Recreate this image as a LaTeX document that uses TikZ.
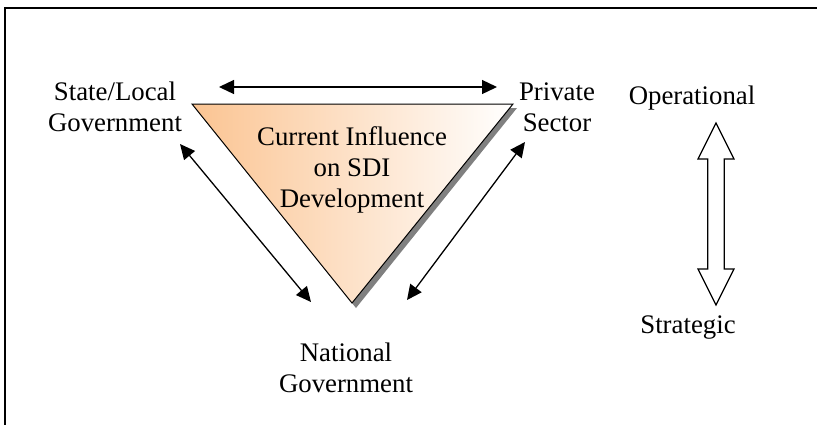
\documentclass[tikz,border=0pt]{standalone}
\usepackage{fontspec}
\setmainfont{Liberation Serif}
\definecolor{peach}{RGB}{251,196,146}
\definecolor{shadowgrey}{RGB}{128,128,128}
\usetikzlibrary{arrows.meta,shapes}
\tikzstyle{actor}=[align=center, inner sep=0pt, font=\fontsize{26.8}{31}\selectfont]
\tikzstyle{dedge}=[draw, line width=1.3pt, {Triangle[length=15pt,width=14pt]}-{Triangle[length=15pt,width=14pt]}]
\tikzstyle{bigarrow}=[draw, line width=1.2pt, fill=white]

\begin{document}
\begin{tikzpicture}[x=1pt,y=-1pt]
    \path [use as bounding box] (0,0) rectangle (817,424);
    \draw[line width=1.6pt] (5,8) rectangle (840,440);

    % triangle and its shadow
    \fill[shadowgrey] (196,108) -- (517,108) -- (356,308) -- cycle;
    \shade[left color=peach, right color=white, draw=black, line width=1pt]
        (192,104) -- (513,104) -- (352,303) -- cycle;

    \node[actor] (infl) at (352,170) {Current Influence\\on SDI\\Development};
    \node[actor] (state) at (115,107) {State/Local\\Government};
    \node[actor] (priv) at (557,107) {Private\\Sector};
    \node[actor] (natl) at (346,368) {National\\Government};
    \node[actor] (oper) at (692,98) {Operational};
    \node[actor] (strat) at (688,328) {Strategic};

    \coordinate (top1) at (219,87);
    \coordinate (top2) at (497,87);
    \coordinate (left1) at (180,144);
    \coordinate (left2) at (311,302);
    \coordinate (right1) at (525,142);
    \coordinate (right2) at (407,300);

    \path[dedge] (top1) -- (top2);
    \path[dedge] (left1) -- (left2);
    \path[dedge] (right1) -- (right2);

    % operational <-> strategic
    \path[bigarrow] (716,123) -- (734,159) -- (724.3,159) -- (724.3,269) -- (734,269)
        -- (716,305) -- (698,269) -- (707.7,269) -- (707.7,159) -- (698,159) -- cycle;
\end{tikzpicture}
\end{document}
